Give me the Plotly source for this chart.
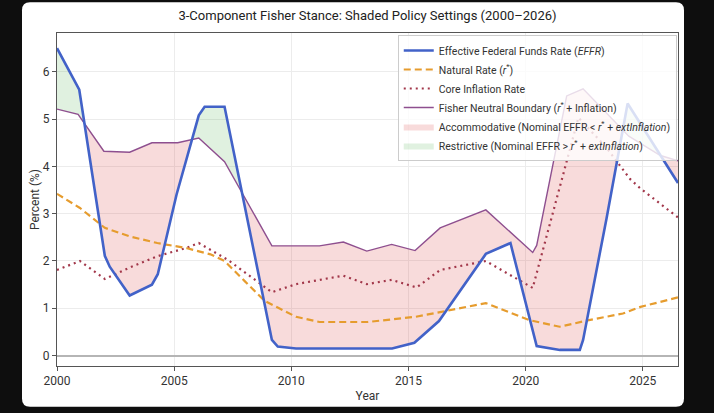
import numpy as np
import plotly.graph_objects as go

# ---------------- data ----------------
effr_years = [2000.0, 2000.95, 2002.04, 2002.25, 2003.1, 2004.05, 2004.3, 2005.1, 2006.05, 2006.3,
              2007.15, 2009.17, 2009.42, 2010.2, 2014.3, 2015.25, 2016.3, 2017.3, 2018.3, 2019.35,
              2020.3, 2020.47, 2021.46, 2022.31, 2022.45, 2023.45, 2024.35, 2026.5]
effr = [6.5, 5.62, 2.11, 1.88, 1.27, 1.5, 1.72, 3.4, 5.08, 5.26,
        5.26, 0.33, 0.19, 0.15, 0.15, 0.27, 0.73, 1.45, 2.15, 2.38,
        0.5, 0.2, 0.12, 0.12, 0.33, 2.9, 5.33, 3.65]

rstar_years = [2000.0, 2000.98, 2002.04, 2003.1, 2004.28, 2005.55, 2006.55, 2007.15, 2008.0, 2008.85,
               2010.2, 2011.2, 2013.25, 2015.3, 2016.35, 2018.3, 2020.15, 2021.45, 2022.7, 2024.15,
               2024.9, 2026.5]
rstar = [3.42, 3.12, 2.7, 2.52, 2.38, 2.27, 2.14, 2.0, 1.58, 1.16,
         0.82, 0.71, 0.71, 0.82, 0.92, 1.11, 0.75, 0.61, 0.75, 0.89,
         1.03, 1.23]

infl_years = [2000.0, 2000.98, 2002.04, 2003.1, 2004.28, 2005.55, 2006.05, 2007.3, 2009.17, 2010.2,
              2011.2, 2012.22, 2013.22, 2014.28, 2015.35, 2016.35, 2018.3, 2020.3, 2022.25, 2023.44,
              2024.46, 2024.88, 2026.5]
infl = [1.81, 2.0, 1.62, 1.86, 2.1, 2.28, 2.38, 2.02, 1.34, 1.51,
        1.6, 1.69, 1.51, 1.6, 1.44, 1.81, 2.0, 1.43, 5.03, 4.4,
        3.73, 3.54, 2.92]

fisher_years = [2000.0, 2000.9, 2002.0, 2003.1, 2004.05, 2005.15, 2006.05, 2007.15, 2009.17, 2011.2,
                2012.22, 2013.22, 2014.28, 2015.28, 2016.35, 2018.3, 2020.3, 2020.47, 2021.75, 2022.45,
                2024.4, 2025.75, 2026.5]
fisher = [5.21, 5.1, 4.32, 4.3, 4.5, 4.5, 4.6, 4.1, 2.32, 2.32,
          2.4, 2.21, 2.35, 2.22, 2.7, 3.08, 2.18, 2.33, 5.49, 5.64,
          4.64, 4.23, 4.12]

x_ticks = [2000, 2005, 2010, 2015, 2020, 2025]
y_ticks = [0, 1, 2, 3, 4, 5, 6]

# ---------------- fill regions (EFFR vs Fisher boundary) ----------------
grid = np.union1d(effr_years, fisher_years)
e = np.interp(grid, effr_years, effr)
b = np.interp(grid, fisher_years, fisher)
xs, es, bs = [grid[0]], [e[0]], [b[0]]
for i in range(1, len(grid)):
    d0, d1 = e[i - 1] - b[i - 1], e[i] - b[i]
    if d0 * d1 < 0:
        t = d0 / (d0 - d1)
        xc = grid[i - 1] + t * (grid[i] - grid[i - 1])
        yc = e[i - 1] + t * (e[i] - e[i - 1])
        xs.append(xc); es.append(yc); bs.append(yc)
    xs.append(grid[i]); es.append(e[i]); bs.append(b[i])
xs, es, bs = np.array(xs), np.array(es), np.array(bs)
top = np.maximum(es, bs)

fig = go.Figure()
fig.add_trace(go.Scatter(x=xs, y=es, mode="lines", line=dict(width=0), showlegend=False, hoverinfo="skip"))
fig.add_trace(go.Scatter(x=xs, y=top, mode="lines", line=dict(width=0), fill="tonexty",
                         fillcolor="rgba(214,39,40,0.17)", legendrank=5,
                         name="Accommodative (Nominal EFFR &lt; <i>r</i><sup>*</sup> + <i>extInflation</i>)"))
fig.add_trace(go.Scatter(x=xs, y=bs, mode="lines", line=dict(width=0), showlegend=False, hoverinfo="skip"))
fig.add_trace(go.Scatter(x=xs, y=top, mode="lines", line=dict(width=0), fill="tonexty",
                         fillcolor="rgba(44,160,44,0.15)", legendrank=6,
                         name="Restrictive (Nominal EFFR &gt; <i>r</i><sup>*</sup> + <i>extInflation</i>)"))

fig.add_trace(go.Scatter(x=fisher_years, y=fisher, mode="lines", line=dict(color="#8e4f8f", width=1.4),
                         legendrank=4, name="Fisher Neutral Boundary (<i>r</i><sup>*</sup> + Inflation)"))
fig.add_trace(go.Scatter(x=infl_years, y=infl, mode="lines", line=dict(color="#a2374a", width=2.2, dash="2px,4px"),
                         legendrank=3, name="Core Inflation Rate"))
fig.add_trace(go.Scatter(x=rstar_years, y=rstar, mode="lines",
                         line=dict(color="#e69c2e", width=2.2, dash="7px,4px"),
                         legendrank=2, name="Natural Rate (<i>r</i><sup>*</sup>)"))
fig.add_trace(go.Scatter(x=effr_years, y=effr, mode="lines", line=dict(color="#4262c8", width=2.6),
                         legendrank=1, name="Effective Federal Funds Rate (<i>EFFR</i>)"))

# white rounded panel behind the chart
L, R, T, B = 57, 678, 33, 369
W, H = R - L, B - T
def px(x):
    return (x - L) / W
def py(y):
    return (B - y) / H
x0, x1, y0, y1 = px(22), px(684), py(410), py(2)
rx, ry = 8 / W, 8 / H
panel = (f"M {x0+rx},{y1} L {x1-rx},{y1} Q {x1},{y1} {x1},{y1-ry} L {x1},{y0+ry} "
         f"Q {x1},{y0} {x1-rx},{y0} L {x0+rx},{y0} Q {x0},{y0} {x0},{y0+ry} L {x0},{y1-ry} "
         f"Q {x0},{y1} {x0+rx},{y1} Z")

fig.update_layout(
    width=714, height=413,
    margin=dict(l=L, r=714 - R, t=T, b=413 - B),
    paper_bgcolor="#0e0e0e", plot_bgcolor="white",
    font=dict(family="Roboto, Open Sans, sans-serif", color="#333333", size=12),
    title=dict(text="3-Component Fisher Stance: Shaded Policy Settings (2000–2026)",
               x=0.5, xref="paper", xanchor="center", y=1 - 15 / 413, yanchor="middle",
               font=dict(size=13, color="#222222")),
    shapes=[dict(type="path", path=panel, xref="paper", yref="paper", layer="below",
                 fillcolor="white", line=dict(width=0))],
    legend=dict(x=0.998, y=0.994, xanchor="right", yanchor="top", traceorder="normal",
                bgcolor="rgba(255,255,255,0.8)", bordercolor="#cccccc", borderwidth=1,
                font=dict(size=10.5, color="#333333"), itemwidth=30, tracegroupgap=0),
    showlegend=True,
)
fig.update_xaxes(range=[2000, 2026.5], tickvals=x_ticks, ticktext=[str(t) for t in x_ticks],
                 showgrid=True, gridcolor="#ececec", gridwidth=1,
                 showline=True, linecolor="#555555", linewidth=1, mirror=True,
                 ticks="outside", ticklen=4, tickcolor="#555555", zeroline=False,
                 title=dict(text="Year", font=dict(size=12), standoff=4))
fig.update_yaxes(range=[-0.22, 6.82], tickvals=y_ticks,
                 showgrid=True, gridcolor="#ececec", gridwidth=1,
                 showline=True, linecolor="#555555", linewidth=1, mirror=True,
                 ticks="outside", ticklen=4, tickcolor="#555555",
                 zeroline=True, zerolinecolor="#b5b5b5", zerolinewidth=1.5,
                 title=dict(text="Percent (%)", font=dict(size=12), standoff=0))

fig.write_html("out.html")
